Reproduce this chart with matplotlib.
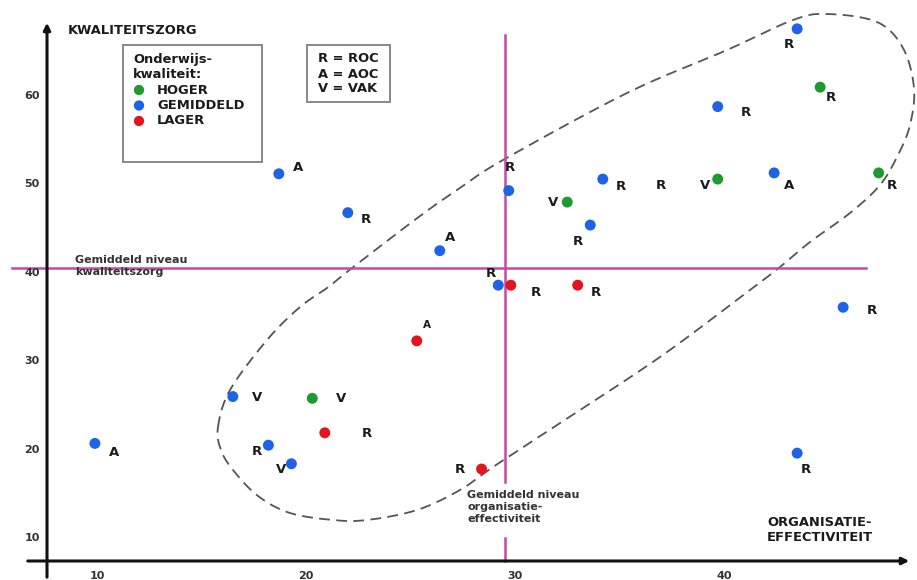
import numpy as np
import matplotlib
matplotlib.use('Agg')
import matplotlib.pyplot as plt
from matplotlib.patches import Rectangle

#======== data ========
# organisatie-effectiviteit (x), kwaliteitszorg (y)
orgEff = [9.9, 18.7, 22.0, 26.4, 16.5, 18.2, 19.3, 29.2, 29.7, 33.6, 34.2,
          39.7, 43.5, 42.4, 45.7, 43.5,
          20.3, 32.5, 39.7, 44.6, 47.4,
          20.9, 25.3, 28.4, 29.8, 33.0]
kwalZorg = [20.7, 51.2, 46.8, 42.5, 26.0, 20.5, 18.4, 38.6, 49.3, 45.4, 50.6,
            58.8, 67.6, 51.3, 36.1, 19.6,
            25.8, 48.0, 50.6, 61.0, 51.3,
            21.9, 32.3, 17.8, 38.6, 38.6]
kwaliteit = ['GEMIDDELD'] * 16 + ['HOGER'] * 5 + ['LAGER'] * 5
schoolType = ['A', 'A', 'R', 'A', 'V', 'R', 'V', 'R', 'R', 'R', 'R',
              'R', 'R', 'A', 'R', 'R',
              'V', 'V', 'V', 'R', 'R',
              'R', 'A', 'R', 'R', 'R']
# label offsets in pixels (dx, dy), layout only
labelOffset = [(19, -9), (19, 6), (18, -7), (10, 13), (24, -1), (-12, -6), (-10, -6),
               (-7, 12), (1, 23), (-12, -16), (18, -7),
               (28, -6), (-8, -16), (15, -13), (29, -3), (9, -16),
               (29, 0), (-14, 0), (-13, -6), (11, -10), (13, -13),
               (42, -1), (10, 16), (-22, 0), (25, -7), (18, -7)]
extraLabel = ('R', 37.0, 49.9)   # label without a dot

meanOrgEff = 29.5
meanKwalZorg = 40.5

xTicks = [10, 20, 30, 40]
yTicks = [10, 20, 30, 40, 50, 60]

kleuren = {'HOGER': '#1f9a2e', 'GEMIDDELD': '#1d63e6', 'LAGER': '#e3141e'}

# dashed loop around the cluster (pixel coordinates of the picture)
loopPx = [(218, 427), (230, 390), (267, 340), (300, 307), (327, 288), (352, 268),
          (420, 216), (460, 188), (503, 160), (627, 93), (727, 50), (793, 20),
          (827, 14), (877, 22), (903, 48), (914, 88), (910, 125), (898, 155),
          (880, 185), (850, 213), (810, 242), (780, 267), (750, 290), (660, 357),
          (560, 423), (493, 467), (460, 490), (417, 510), (367, 520), (333, 520),
          (290, 513), (258, 496), (233, 470), (221, 450)]
#===========================================

W, H = 917, 580
xPerPx = 1 / 20.9
yPerPx = 1 / 8.84
xlim = (10 - 97 * xPerPx, 10 + (W - 97) * xPerPx)
ylim = (10 - (H - 538) * yPerPx, 10 + 538 * yPerPx)

fig = plt.figure(figsize=(W / 100, H / 100), dpi=100)
ax = fig.add_axes([0, 0, 1, 1])
ax.set_xlim(*xlim)
ax.set_ylim(*ylim)
ax.axis('off')


def px(x, y):
    return (x / W, 1 - y / H)


def closedSpline(pts, n=16):
    P = np.array(pts, dtype=float)
    N = len(P)
    t = np.linspace(0, 1, n, endpoint=False)[:, None]
    seg = []
    for i in range(N):
        p0, p1, p2, p3 = P[i - 1], P[i], P[(i + 1) % N], P[(i + 2) % N]
        seg.append(0.5 * (2 * p1 + (-p0 + p2) * t + (2 * p0 - 5 * p1 + 4 * p2 - p3) * t ** 2
                          + (-p0 + 3 * p1 - 3 * p2 + p3) * t ** 3))
    out = np.vstack(seg + [P[:1]])
    return out[:, 0] / W, 1 - out[:, 1] / H


textCol = '#1a1a1a'
magenta = '#c44aa8'
fs = 9.4

# axes with arrows
axX = 10 + (47 - 97) * xPerPx
axY = 10 + (538 - 561) * yPerPx
ax.annotate('', xy=(10 + (912 - 97) * xPerPx, axY), xytext=(10 + (25 - 97) * xPerPx, axY),
            arrowprops=dict(arrowstyle='-|>', color='#111', lw=2.2, mutation_scale=10))
ax.annotate('', xy=(axX, 10 + (538 - 20) * yPerPx), xytext=(axX, ylim[0]),
            arrowprops=dict(arrowstyle='-|>', color='#111', lw=2.2, mutation_scale=10))

for t in xTicks:
    ax.text(t, 10 + (538 - 576) * yPerPx, str(t), ha='center', va='center',
            fontsize=8, fontweight='bold', color='#333')
for t in yTicks:
    ax.text(10 + (32 - 97) * xPerPx, t, str(t), ha='center', va='center',
            fontsize=8, fontweight='bold', color='#333')

# mean lines
ax.plot([10 + (12 - 97) * xPerPx, 10 + (866 - 97) * xPerPx], [meanKwalZorg] * 2,
        color=magenta, lw=1.8, zorder=2)
ax.plot([meanOrgEff] * 2, [10 + (538 - 35) * yPerPx, 10 + (538 - 482) * yPerPx],
        color=magenta, lw=1.8, zorder=2)
ax.plot([meanOrgEff] * 2, [10, axY], color=magenta, lw=1.8, zorder=2)

# dashed loop
lx, ly = closedSpline(loopPx)
ax.plot(lx, ly, transform=fig.transFigure, color='#555', lw=1.3,
        linestyle=(0, (6, 3.5)), zorder=1)

# points
orgEff = np.array(orgEff)
kwalZorg = np.array(kwalZorg)
for cat in ['GEMIDDELD', 'HOGER', 'LAGER']:
    m = np.array([k == cat for k in kwaliteit])
    ax.scatter(orgEff[m], kwalZorg[m], s=62, color=kleuren[cat], zorder=4,
               edgecolors='none')

for i in range(len(orgEff)):
    dx, dy = labelOffset[i]
    small = (kwaliteit[i] == 'LAGER' and schoolType[i] == 'A')
    ax.annotate(schoolType[i], (orgEff[i], kwalZorg[i]), xytext=(dx * 0.72, dy * 0.72),
                textcoords='offset points', ha='center', va='center',
                fontsize=7.5 if small else 9.5, fontweight='bold', color=textCol, zorder=5)
ax.text(extraLabel[1], extraLabel[2], extraLabel[0], ha='center', va='center',
        fontsize=9.5, fontweight='bold', color=textCol)

# titles
ax.text(*px(68, 31), 'KWALITEITSZORG', transform=fig.transFigure, ha='left', va='center',
        fontsize=fs, fontweight='bold', color=textCol)
ax.text(*px(767, 530), 'ORGANISATIE-\nEFFECTIVITEIT', transform=fig.transFigure,
        ha='left', va='center', fontsize=fs, fontweight='bold', color=textCol,
        linespacing=1.25)
ax.text(*px(75, 266), 'Gemiddeld niveau\nkwaliteitszorg', transform=fig.transFigure,
        ha='left', va='center', fontsize=8, fontweight='bold', color='#333',
        linespacing=1.3)
ax.text(*px(467, 507), 'Gemiddeld niveau\norganisatie-\neffectiviteit',
        transform=fig.transFigure, ha='left', va='center', fontsize=8,
        fontweight='bold', color='#333', linespacing=1.25,
        bbox=dict(facecolor='white', edgecolor='none', pad=0.5))

# legend box
ax.add_patch(Rectangle(px(123, 162), 139 / W, 117 / H, transform=fig.transFigure,
                       facecolor='white', edgecolor='#888', lw=1.4, zorder=6))
ax.text(*px(133, 67), 'Onderwijs-\nkwaliteit:', transform=fig.transFigure, ha='left',
        va='center', fontsize=fs, fontweight='bold', color=textCol, linespacing=1.2,
        zorder=7)
for j, cat in enumerate(['HOGER', 'GEMIDDELD', 'LAGER']):
    yy = 90 + j * 15.5
    ax.scatter(*px(139, yy), s=55, color=kleuren[cat], transform=fig.transFigure,
               edgecolors='none', zorder=7)
    ax.text(*px(157, yy), cat, transform=fig.transFigure, ha='left', va='center',
            fontsize=fs, fontweight='bold', color=textCol, zorder=7)

# type box
ax.add_patch(Rectangle(px(307, 102), 83 / W, 57 / H, transform=fig.transFigure,
                       facecolor='white', edgecolor='#888', lw=1.4, zorder=6))
for j, s in enumerate(['R = ROC', 'A = AOC', 'V = VAK']):
    ax.text(*px(318, 59 + j * 15), s, transform=fig.transFigure, ha='left', va='center',
            fontsize=fs, fontweight='bold', color=textCol, zorder=7)

fig.savefig('out.png', dpi=100, facecolor='white')
